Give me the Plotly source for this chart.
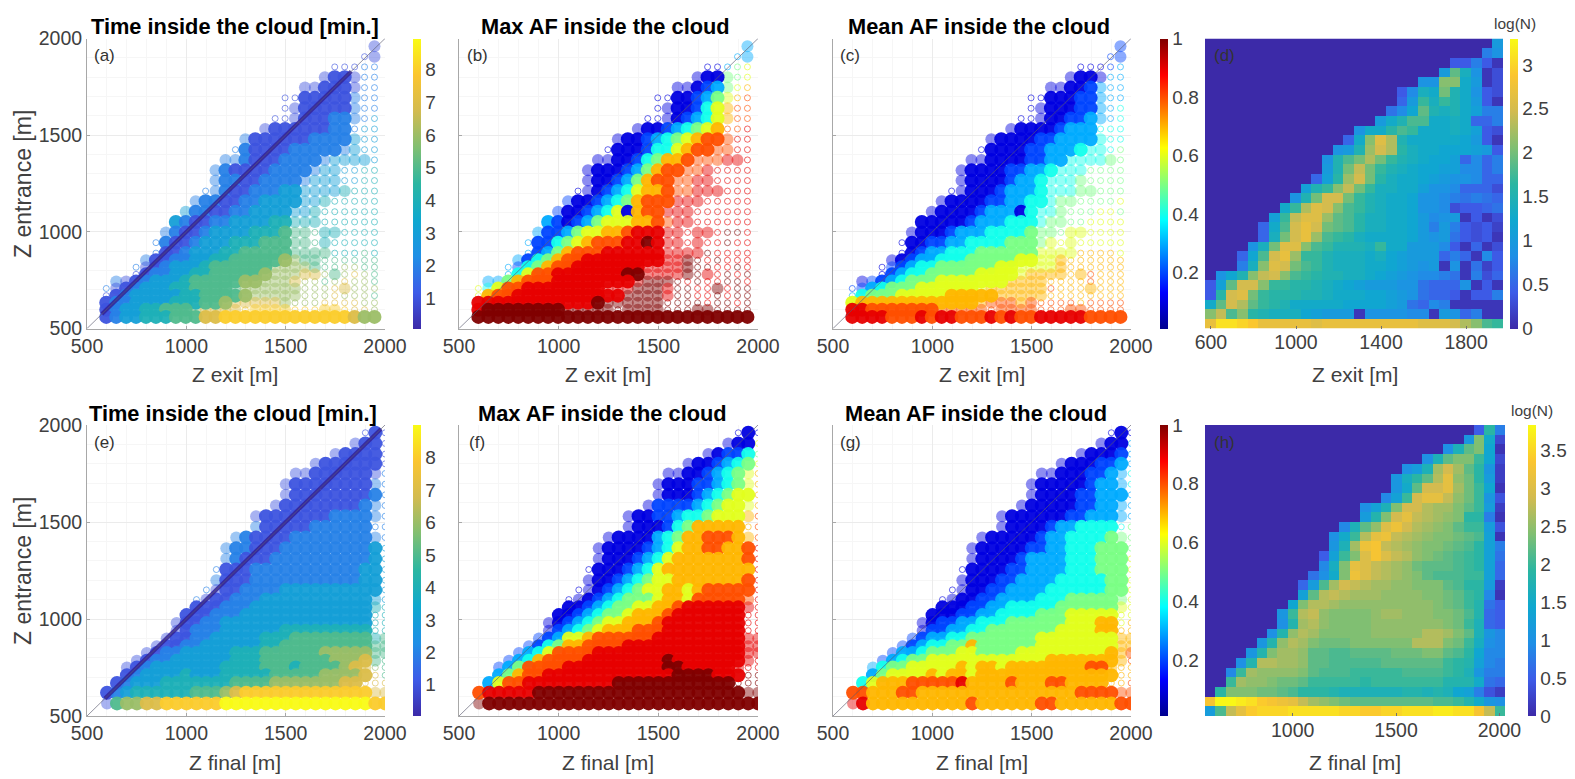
import plotly.graph_objects as go

W, H = 1575, 779

# ---------- data: all rows listed top to bottom, right aligned on the last column ----------
x_exit = [597 + 50 * i for i in range(28)]
x_final = [601 + 50 * i for i in range(29)]
y_rows_exit = [1960,1906,1853,1800,1746,1693,1639,1586,1532,1479,1425,1372,1318,1265,1211,1158,1104,1051,997,944,890,853,817,780,743,707,670,633,597,560]
y_rows_final = [1960,1905,1850,1800,1750,1695,1640,1585,1530,1475,1420,1365,1310,1255,1200,1150,1100,1060,1020,980,940,900,860,825,785,750,710,670,620,565]
# extent of the dense dark streak along the diagonal in the time panels
streak_exit = [575, 1830]
streak_final = [590, 1980]

# log(N) x 10
logn_exit = [
[10],[7,9],[4,4,7,4,1],[10,19,14,9,1,3],[9,9,21,21,13,10,1,3],
[4,8,14,13,20,15,13,9,4,3],[5,10,17,14,17,15,13,10,4,1],[6,8,12,19,15,14,15,13,11,7,7],
[10,13,15,18,18,13,13,14,13,5,5,7],[9,13,13,16,18,17,13,13,13,14,13,11,4,3],
[5,13,21,26,23,15,13,13,13,13,13,12,10,4,1],[9,10,15,22,25,23,16,14,13,13,12,12,12,11,10,4],
[9,15,18,20,23,20,17,15,14,13,12,12,11,5,8,5,7],[10,15,20,24,20,17,15,14,13,12,12,11,11,8,8,5,7],
[5,11,16,22,25,20,16,14,13,13,12,11,10,9,9,8,5,5],[11,15,17,21,24,20,17,14,14,13,13,11,9,9,8,5,5,5,3],
[9,15,20,25,25,20,17,15,14,13,13,12,9,9,8,7,6,7,6,5],[13,17,23,26,25,21,18,17,15,14,13,13,12,9,9,8,3,4,4,5,6],
[11,17,24,26,26,22,19,18,16,14,14,13,13,12,10,8,9,10,1,4,1,3],
[5,13,18,25,27,25,20,19,18,16,14,14,13,13,12,10,7,10,7,4,3,4,2],
[5,14,20,25,27,22,18,17,16,14,13,13,13,13,12,10,9,10,6,4,3,4,1],
[9,14,20,26,26,21,18,17,15,15,15,14,17,13,13,10,10,10,8,4,1,5,1,3],
[5,12,18,25,27,22,17,17,15,14,14,14,13,14,12,11,10,10,10,5,7,5,1,8,4],
[7,14,21,26,25,20,18,17,15,14,14,14,13,13,12,11,10,9,10,1,9,1,6,2,4],
[9,12,15,21,24,25,21,18,17,16,15,15,14,14,13,12,11,10,9,8,8,7,6,1,7,3,5],
[4,11,19,25,25,21,17,17,16,16,15,14,13,12,11,10,10,10,9,9,6,5,5,5,9,1,4,1],
[4,16,25,26,20,17,16,16,16,15,15,14,13,13,13,12,12,11,10,9,6,5,5,4,1,4,4,7],
[13,19,25,23,19,17,16,15,13,13,13,13,13,12,12,12,12,11,10,6,5,8,7,1,1,1,1,1],
[21,24,18,21,16,15,14,14,14,12,11,10,10,10,1,9,9,9,9,8,8,1,10,9,5,7,1,1],
[27,31,31,30,29,27,27,27,27,27,26,27,27,27,27,27,27,27,27,27,26,26,26,25,23,21,18,17],
]
logn_final = [
[5,19,8],[11,24,15,3],[10,17,22,24,14,1],[10,17,22,24,24,20,14,3],[10,12,17,26,29,26,22,19,11,2],
[11,16,19,22,27,31,25,23,19,12,2],[11,15,22,29,29,31,26,23,20,14,1],[9,13,20,29,31,31,28,25,23,20,11,4],
[10,13,17,24,29,29,27,26,26,24,22,20,12,2],[12,18,24,29,31,28,27,26,25,24,19,19,8,1],
[9,17,22,25,30,32,29,27,26,25,24,22,20,20,12,4],[10,15,20,27,31,32,28,27,26,25,24,24,23,22,21,13,1],
[11,17,26,32,33,28,27,26,25,24,24,23,22,21,19,13,8],[5,13,20,24,30,33,30,28,27,25,24,23,22,21,20,19,13,7],
[9,16,24,31,30,28,27,26,25,23,22,22,22,21,20,19,13,6],[7,10,15,24,32,30,28,27,26,25,24,22,21,21,21,20,20,13,6],
[6,12,21,26,29,28,27,26,26,25,25,24,24,24,22,21,19,19,12,2],[13,22,27,28,27,26,26,26,25,25,25,25,24,24,23,22,20,19,9,1],
[14,24,27,27,26,25,25,25,25,25,25,25,25,25,24,23,22,20,18,7,5],
[11,20,27,28,25,24,24,24,24,25,26,26,25,25,25,24,24,23,21,18,6,5],
[10,18,26,27,25,24,24,24,24,25,25,25,25,25,25,25,24,23,20,17,6,5],
[10,18,25,27,26,24,24,24,24,24,25,25,25,25,25,27,27,26,24,22,17,11,9],
[11,18,25,27,26,24,23,23,23,24,24,24,24,24,24,27,27,27,24,23,20,16,10,9],
[11,18,24,26,26,25,22,22,21,21,22,22,22,22,23,23,23,24,24,22,21,19,14,9,9],
[10,18,27,27,26,26,25,22,22,21,21,21,21,21,22,22,22,22,22,22,20,19,18,13,9,8],
[9,20,26,25,25,25,25,24,22,21,21,21,20,20,20,20,20,21,21,21,21,20,19,17,11,8,8],
[20,26,25,25,24,23,23,22,20,20,20,20,20,19,20,20,20,20,20,20,20,18,18,18,15,7,6],
[19,24,24,24,23,23,22,21,19,19,19,18,17,17,17,17,17,17,18,18,17,18,17,14,13,8,4,2],
[33,38,38,37,36,34,33,32,31,28,26,25,24,23,22,22,22,22,22,22,22,22,21,21,20,18,15,11,10],
[12,21,28,31,34,35,35,35,36,36,36,36,36,35,35,34,34,35,35,36,36,36,37,37,36,36,33,28,20],
]

# time inside the cloud [min] per bin, Z exit
time_exit = [
[1],[1,1],[1,1,1,2,2],[1,1,1,1,2,2],[1,1,1,1,1,1,2,2],[1,1,1,1,1,1,1,2,2,2],[1,1,1,1,1,1,1,2,2,2],
[1,1,1,1,1,1,2,2,2,2,3],[1,1,1,1,1,1,1,2,2,2,3,3],[2,1,1,1,1,1,1,2,2,2,2,3,3,3],
[2,2,1,1,1,1,2,2,2,2,2,2,3,3,3],[2,2,2,1,1,1,2,2,2,2,2,3,3,3,3,3],[2,2,1,1,1,1,2,2,2,2,2,3,3,3,3,4,4],
[2,2,2,1,1,2,2,2,2,2,3,3,3,3,3,4,4],[2,2,2,1,1,2,2,2,3,3,3,3,3,3,4,4,4,4],
[2,2,2,1,1,2,2,3,3,3,3,3,3,4,4,4,4,4,4],[3,2,2,1,1,2,2,3,3,3,3,3,3,4,4,4,4,4,4,4],
[3,2,1,1,2,2,3,3,3,3,4,4,4,4,4,4,4,4,4,4,4],[2,2,1,1,2,3,3,3,3,4,4,4,5,5,5,5,4,4,4,4,4,4],
[2,2,1,1,2,3,3,3,4,4,4,5,5,5,5,5,5,4,4,4,4,4,4],[2,1,1,2,3,3,3,4,4,5,5,5,5,5,5,5,5,5,4,4,4,5,4],
[2,1,1,2,2,3,3,4,4,5,5,5,5,5,6,6,5,5,5,5,5,5,5,5],[2,1,1,2,3,3,3,4,5,5,5,5,5,5,6,6,6,6,5,5,5,6,6,5,5],
[1,1,2,2,3,3,4,4,5,5,5,5,5,6,6,6,6,7,7,6,5,6,7,6,5],[2,1,1,2,3,3,3,4,5,5,5,5,5,6,6,6,6,6,7,6,6,5,6,7,6,6,5],
[2,1,1,2,3,3,3,4,4,5,5,5,5,5,6,6,6,6,6,6,6,6,6,7,7,6,6,6],[1,1,2,3,3,3,3,3,4,4,5,5,5,5,6,6,6,6,6,6,6,6,6,7,6,6,6,5],
[1,2,2,3,3,3,3,4,4,4,5,5,6,7,7,7,7,7,6,6,6,6,7,7,7,7,6,6],[1,2,3,3,4,4,5,5,5,6,7,7,7,7,8,8,8,8,8,8,8,8,8,8,8,7,7,6],
[1,2,3,3,4,4,4,5,5,5,7,7,8,8,8,8,8,8,8,8,8,8,8,8,8,7,6,6],
]
# max AF x 10, Z exit
max_exit = [
[3],[3,3],[1,1,3,5,6],[1,1,1,5,5,6],[1,1,1,2,3,5,6,7],[1,1,1,1,2,3,5,6,7,8],[1,1,1,1,2,4,6,7,8,8],
[1,1,1,1,2,3,4,6,7,8,8],[1,1,1,2,3,4,5,6,7,8,8,9],[1,1,1,2,3,4,5,6,7,8,8,8,9,9],
[1,1,1,1,2,4,4,6,7,8,8,8,8,9,9],[1,1,1,1,2,4,5,7,7,8,8,8,8,9,9,9],[1,1,1,1,2,3,5,7,8,8,8,8,9,9,9,9,9],
[1,1,1,2,3,5,7,8,8,8,8,9,9,9,9,9,9],[1,1,1,2,3,4,6,7,7,8,8,8,9,9,9,9,9,9],
[2,1,1,2,3,4,5,7,8,8,8,9,9,9,9,9,9,9,9],[2,1,1,2,3,4,6,1,7,8,8,9,9,9,9,9,9,9,9,9],
[3,2,1,2,3,5,6,6,6,7,7,8,8,9,9,9,9,9,9,9,9],[3,2,2,3,5,6,6,7,7,8,9,9,9,9,9,9,9,9,9,10,10,9],
[3,2,2,4,5,6,7,8,8,8,9,9,10,9,9,9,9,9,9,9,10,9,9],[3,2,3,5,7,8,8,8,9,9,9,9,9,9,9,9,9,9,10,9,9,9,9],
[3,2,4,5,7,8,8,9,9,9,9,9,9,9,9,9,9,10,10,9,10,9,9,9],[3,2,4,5,7,8,8,9,9,9,9,9,9,9,9,9,9,9,10,10,10,9,9,10,9],
[3,4,6,8,8,9,9,9,9,9,9,9,10,10,9,9,9,9,10,10,9,9,10,9,10],[3,3,5,7,8,8,8,9,9,9,9,9,9,9,9,9,10,10,10,10,9,10,9,9,10,10,9],
[6,4,6,8,8,9,9,9,9,9,9,9,9,9,9,9,10,10,10,9,10,10,9,9,10,9,10,10],[6,7,8,8,9,9,9,9,9,9,9,9,9,9,9,10,10,10,10,9,10,10,9,9,10,9,10,10],
[9,9,9,9,9,9,9,9,9,9,9,9,10,10,10,10,10,10,10,10,10,10,10,9,10,10,9,10],
[9,10,10,10,10,10,10,10,10,10,10,10,10,10,10,10,10,10,10,10,10,10,10,10,10,10,10,10],
[10,10,10,10,10,10,10,10,10,10,10,10,10,10,10,10,10,10,10,10,10,10,10,10,10,10,10,10],
]
# mean AF x 10, Z exit
mean_exit = [
[2],[2,2],[1,1,1,2,3],[1,1,1,1,3,3],[1,1,1,1,2,3,3,3],[1,1,1,1,1,2,2,3,3,3],[1,1,1,1,1,2,2,3,3,4],
[1,1,1,1,1,2,2,3,3,3,4],[1,1,1,1,1,2,3,3,3,4,4,4],[1,1,1,1,1,2,2,3,3,3,3,4,4,4],
[1,1,1,1,1,2,2,3,3,3,4,4,4,4,5],[1,1,1,1,1,1,2,2,3,3,4,4,4,4,5,5],[1,1,1,1,1,2,2,3,3,4,4,4,4,5,5,5,5],
[1,1,1,1,1,2,3,3,4,4,4,4,5,5,5,5,5],[1,1,1,1,1,2,3,3,3,4,4,4,4,5,5,5,5,5],
[1,1,1,1,1,2,2,3,3,4,4,4,5,5,5,5,5,5,6],[1,1,1,1,1,2,3,3,3,1,4,4,4,5,5,5,5,6,6,5],
[1,1,1,1,1,2,3,3,3,4,4,4,4,5,5,5,5,6,6,6,6],[1,1,1,1,2,3,3,3,4,4,4,4,5,5,5,5,6,6,6,6,6,6],
[1,1,1,2,2,3,3,4,4,4,4,5,5,5,5,6,6,6,6,6,6,6,6],[1,1,2,3,3,4,4,4,5,5,5,5,5,5,6,6,6,6,7,7,7,7,6],
[1,1,2,3,3,4,4,4,5,5,5,5,5,6,6,6,6,7,7,7,7,7,7,7],[1,2,2,3,4,4,5,5,5,5,5,5,6,6,6,6,6,6,7,7,7,7,7,7,7],
[1,2,3,4,4,5,5,5,5,5,6,6,6,6,6,7,7,7,7,7,7,8,7,7,7],[1,2,2,3,4,5,5,5,6,6,6,6,6,6,6,7,7,7,7,7,7,7,7,8,7,7,7],
[2,2,3,4,5,5,5,6,6,6,6,6,6,6,7,7,7,7,7,7,8,7,7,7,7,7,7,7],[3,4,5,5,5,6,6,6,6,6,7,7,7,7,7,7,7,7,7,7,7,7,7,7,7,7,7,7],
[6,7,7,7,7,7,7,7,7,7,7,7,7,7,8,8,8,7,8,8,8,8,8,7,8,8,8,8],[9,9,8,8,8,8,8,8,8,8,8,8,8,8,8,8,8,8,8,8,8,8,8,8,8,8,8,8],
[9,9,9,9,8,8,8,9,8,9,9,8,8,8,9,8,9,8,8,9,9,9,9,9,8,8,8,8],
]
# time inside the cloud [min] per bin, Z final
time_final = [
[1,1,1],[1,1,1,1],[1,1,1,1,1,1],[1,1,1,1,1,1,1,1],[1,1,1,1,1,1,1,1,1,2],[1,1,1,1,1,1,1,1,1,2,2],[1,1,1,1,1,1,1,1,1,2,2],
[1,1,1,1,1,1,1,1,1,2,2,2],[1,1,1,1,1,1,1,1,2,2,2,2,2,2],[2,1,1,1,1,1,2,2,2,2,2,2,2,2],
[2,2,1,1,1,1,2,2,2,2,2,2,2,2,2,2],[2,2,2,1,1,1,2,2,2,2,2,2,2,2,2,3,3],[2,2,1,1,1,2,2,2,2,2,2,2,2,2,2,3,3],
[2,1,1,1,2,2,2,2,2,2,2,2,2,2,2,3,3,3],[2,1,1,1,2,2,2,2,2,2,2,2,2,2,2,3,3,3],
[2,1,1,1,2,2,2,2,3,3,3,3,3,3,3,3,3,3,3],[2,1,1,1,2,2,2,3,3,3,3,3,3,3,3,3,3,3,3,3],
[1,1,1,2,2,2,3,3,3,3,3,3,3,3,3,3,3,3,4,4],[1,1,1,2,2,2,3,3,3,3,3,3,3,3,3,3,3,3,3,4,4],
[1,1,1,2,2,3,3,3,3,3,3,3,3,3,3,3,3,3,3,3,4,4],[1,1,2,2,2,3,3,3,3,3,3,4,4,4,4,4,4,4,4,4,4,4],
[1,1,1,2,2,3,3,3,3,3,4,4,4,5,5,5,5,5,5,5,5,4,5],[1,1,1,2,2,3,3,3,3,3,3,4,4,5,5,5,5,5,5,5,5,5,5,5],
[1,1,2,2,3,3,3,3,3,4,4,4,5,5,5,5,5,5,6,6,6,6,6,5,5],[1,1,2,2,3,3,3,3,3,3,4,4,4,5,5,5,5,5,5,5,6,6,6,7,5,5],
[1,1,2,3,3,3,3,3,3,3,4,4,4,4,5,5,5,4,5,5,5,5,6,7,7,6,5],[1,2,3,3,3,3,4,3,3,3,4,4,4,4,4,5,5,5,5,5,6,6,6,6,7,7,5],
[1,2,3,3,3,4,4,4,4,4,4,4,5,5,5,5,6,6,6,6,6,6,6,7,7,7,7,7],[1,2,3,4,4,4,4,4,4,5,5,5,6,7,8,8,8,8,8,8,8,8,8,8,8,8,8,7,7],
[1,5,6,6,7,7,8,8,8,8,8,8,9,9,9,9,9,9,9,9,9,9,9,9,9,9,9,8,8],
]
# max AF x 10, Z final
max_final = [
[1,1,1],[1,1,1,6],[1,1,2,2,4,5],[1,1,1,2,3,4,5,6],[1,1,1,1,2,3,4,5,6,7],[1,1,1,1,2,2,3,4,5,6,7],[1,1,1,1,2,3,4,5,6,6,7],
[1,2,2,2,2,3,4,5,6,6,6,7],[1,1,1,2,2,3,4,4,5,6,6,6,7,8],[1,1,1,1,2,4,5,7,7,7,7,7,7,8],
[1,1,1,1,1,3,4,5,7,7,8,8,8,7,7,8],[1,1,1,1,1,2,3,4,6,7,7,8,8,7,7,8,9],[1,1,1,1,2,3,4,6,7,7,7,7,7,7,7,8,9],
[1,1,1,1,2,3,4,6,7,7,7,7,7,7,7,7,7,9],[1,1,1,2,3,4,5,6,6,7,7,7,7,7,7,7,8,9],
[1,1,1,2,3,4,5,6,6,7,7,6,7,8,8,8,8,8,9],[1,1,1,2,3,4,5,5,5,6,7,7,6,8,8,8,8,8,8,9],
[1,1,2,3,4,5,5,6,6,7,7,8,9,9,9,9,9,9,9,9],[1,1,2,3,4,5,5,6,7,7,7,8,9,9,9,9,9,9,9,9,9],
[1,1,2,3,4,5,6,6,7,7,7,8,9,9,9,9,9,9,9,9,9,9],[1,2,3,4,5,6,7,7,7,8,8,8,9,9,9,9,9,9,9,9,9,9],
[2,2,3,6,6,7,8,8,8,8,8,8,9,9,9,9,9,9,9,9,9,9,9],[2,2,4,5,7,7,8,8,8,8,9,9,9,9,9,9,9,9,9,9,9,9,9,9],
[2,3,4,6,8,8,8,8,9,9,9,9,9,9,9,9,9,9,9,9,9,9,9,9,9],[2,3,4,7,8,8,8,8,9,9,9,9,9,9,9,9,10,9,9,9,9,9,9,9,9,9],
[2,3,5,8,8,8,8,9,9,9,9,9,9,9,9,9,9,10,10,9,9,9,9,9,9,9,9],[3,5,7,8,8,9,9,9,9,9,9,9,9,9,9,9,9,9,10,10,10,10,9,9,9,10,10],
[3,6,8,8,9,9,9,9,9,9,9,9,9,10,10,10,10,10,10,10,10,10,10,10,10,10,10,10],
[8,9,9,9,9,9,10,10,10,10,10,10,10,10,10,10,10,10,10,10,10,10,10,10,10,10,10,10,10],
[10,10,10,10,10,10,10,10,10,10,10,10,10,10,10,10,10,10,10,10,10,10,10,10,10,10,10,10,10],
]
# mean AF x 10, Z final
mean_final = [
[1,1,1],[1,1,1,3],[1,1,1,1,2,3],[1,1,1,1,2,2,3,3],[1,1,1,1,1,2,2,3,3,4],[1,1,1,1,1,1,2,3,3,3,4],[1,1,1,1,1,2,2,3,3,3,3],
[1,1,1,1,1,1,2,2,3,3,3,3],[1,1,1,1,1,1,1,2,2,3,3,3,3,3],[1,1,1,1,1,2,3,3,4,4,4,4,4,5],
[1,1,1,1,1,1,2,3,3,4,4,4,4,5,5,5],[1,1,1,1,1,1,2,2,3,3,4,4,4,5,5,5,5],[1,1,1,1,1,2,3,3,3,3,4,4,4,5,5,5,6],
[1,1,1,1,1,2,2,3,3,3,3,4,4,4,5,5,5,6],[1,1,1,1,2,2,3,3,3,3,4,4,4,4,4,5,5,6],
[1,1,1,1,2,2,3,3,3,3,4,4,4,4,4,4,5,5,6],[1,1,1,1,2,2,3,3,3,3,4,4,4,5,5,5,5,5,5,6],
[1,1,1,2,2,3,3,4,4,4,4,4,5,5,5,5,5,5,6,6],[1,1,1,2,2,3,3,4,4,4,4,5,5,5,6,6,6,6,6,6,6],
[1,1,2,2,3,3,4,4,4,5,5,5,5,5,5,6,6,6,7,7,6,7],[1,2,2,3,3,4,4,5,5,5,5,5,5,5,6,6,6,6,7,7,7,7],
[2,2,3,3,4,4,5,5,5,5,5,5,5,6,6,6,6,6,6,6,6,7,7],[2,2,3,4,4,5,5,7,5,5,5,5,5,5,6,6,6,6,6,6,6,6,7,7],
[2,3,3,4,5,5,5,6,6,5,5,5,5,6,6,6,6,6,6,6,6,6,7,7,8],[2,3,4,5,5,6,6,6,6,6,6,6,6,6,6,6,6,7,7,7,7,7,7,7,7,8],
[3,4,5,5,6,6,6,6,6,7,6,7,7,6,7,7,7,7,7,7,7,7,8,8,7,7,7],[3,5,6,6,6,6,7,6,7,7,6,7,7,7,7,7,7,7,7,7,7,7,7,7,7,7,7],
[4,6,7,7,7,8,8,8,8,8,9,7,7,7,7,8,7,7,7,8,8,7,7,7,7,7,7,8],[8,8,7,7,7,8,8,7,7,7,7,7,7,7,7,7,7,7,7,7,7,7,7,8,8,8,8,8,8],
[9,9,7,7,7,7,7,7,7,7,7,7,8,7,7,7,7,7,7,8,8,7,7,7,7,7,7,8,8],
]

titles = ["Time inside the cloud [min.]", "Max AF inside the cloud", "Mean AF inside the cloud"]
letters = ["(a)", "(b)", "(c)", "(d)", "(e)", "(f)", "(g)", "(h)"]
z_ticks = [500, 1000, 1500, 2000]

# ---------- styling ----------
PARULA = [[0,'#3c2aa8'],[0.125,'#3d5be8'],[0.25,'#1f8fe6'],[0.375,'#0fa8cf'],[0.5,'#2bb6a2'],
          [0.625,'#80bf72'],[0.75,'#d2bb50'],[0.875,'#fbc52f'],[1,'#f9fb15']]
JET = [[0,'#00008f'],[0.125,'#0000ff'],[0.375,'#00ffff'],[0.625,'#ffff00'],[0.875,'#ff0000'],[1,'#800000']]
FONT = "Liberation Sans"
TXT = "#404040"

def pad(rows, n):
    return [[0] * (n - len(r)) + list(r) for r in rows]

def px(x): return x / W
def py(y): return 1 - y / H

fig = go.Figure()
layout = {}
ann = []

def add_axes(k, x0, x1, y0, y1):
    return dict(domain=[px(x0), px(x1)]), dict(domain=[py(y1), py(y0)])

def cbar(x0, x1, y0, y1, vals, text=None):
    d = dict(thickness=x1 - x0, thicknessmode='pixels', len=y1 - y0, lenmode='pixels',
             x=px(x0), xanchor='left', y=py(y1), yanchor='bottom', outlinewidth=0, xpad=0, ypad=0,
             tickvals=vals, ticks='', tickfont=dict(family=FONT, size=19, color=TXT))
    if text: d['ticktext'] = text
    return d

def scatter_panel(k, box, colors, logn, xs, ys, scale, cmin, cmax, cs, bar, streak=None):
    x0, x1, y0, y1 = box
    xa, ya = add_axes(k, x0, x1, y0, y1)
    grid = dict(range=[500, 2000], tickvals=z_ticks, showgrid=True, gridcolor='#ebebeb', gridwidth=1,
                minor=dict(dtick=100, showgrid=True, gridcolor='#f6f6f6', gridwidth=1),
                showline=True, linecolor='#a8a8a8', linewidth=1, ticks='inside', ticklen=3, tickcolor='#a8a8a8',
                zeroline=False, tickfont=dict(family=FONT, size=19.5, color=TXT))
    xa.update(grid); ya.update(grid)
    ya['showticklabels'] = (k in (1, 5))
    xa['anchor'] = f'y{k}'; ya['anchor'] = f'x{k}'
    layout[f'xaxis{k}'] = xa; layout[f'yaxis{k}'] = ya
    # tiers by log(N): sparse open circles, a light veil of overlapping marks, then solid crowded bins
    tiers = [
        (0, 8, dict(symbol='circle-open', size=6, opacity=0.6, line=dict(width=1))),
        (8, 12, dict(symbol='circle', size=12, opacity=0.45, line=dict(width=0))),
        (12, 99, dict(symbol='circle', size=14, opacity=0.95, line=dict(width=0))),
    ]
    for t, (lo, hi, mk) in enumerate(tiers):
        X, Y, C = [], [], []
        for r, row in enumerate(colors):
            for c, v in enumerate(row):
                n = logn[r][c]
                if v and n > 0 and lo < n <= hi:
                    X.append(xs[c]); Y.append(ys[r]); C.append(v * scale)
        marker = dict(mk, color=C, colorscale=cs, cmin=cmin, cmax=cmax)
        if bar and t == 2:
            marker['colorbar'] = bar
            marker['showscale'] = True
        else:
            marker['showscale'] = False
        fig.add_trace(go.Scatter(x=X, y=Y, mode='markers', marker=marker, xaxis=f'x{k}', yaxis=f'y{k}',
                                 showlegend=False, hoverinfo='skip'))
    if streak:
        fig.add_trace(go.Scatter(x=streak, y=streak, mode='lines', line=dict(color='rgba(52,34,150,0.85)', width=4),
                                 xaxis=f'x{k}', yaxis=f'y{k}', showlegend=False, hoverinfo='skip'))
    fig.add_trace(go.Scatter(x=[500, 2000], y=[500, 2000], mode='lines', line=dict(color='rgba(90,90,110,0.65)', width=1),
                             xaxis=f'x{k}', yaxis=f'y{k}', showlegend=False, hoverinfo='skip'))

def heat_panel(k, box, z, xs, xr, xticks, zmax, bar):
    x0, x1, y0, y1 = box
    xa, ya = add_axes(k, x0, x1, y0, y1)
    xa.update(range=xr, tickvals=xticks, ticks='inside', ticklen=3, tickcolor='#707070', showgrid=False, zeroline=False,
              tickfont=dict(family=FONT, size=19.5, color=TXT), anchor=f'y{k}')
    ya.update(range=[len(z) - 0.5, -0.5], showticklabels=False, ticks='', showgrid=False, zeroline=False, anchor=f'x{k}')
    layout[f'xaxis{k}'] = xa; layout[f'yaxis{k}'] = ya
    fig.add_trace(go.Heatmap(z=[[v / 10 for v in row] for row in z], x=xs, y=list(range(len(z))), colorscale=PARULA,
                             zmin=0, zmax=zmax, colorbar=bar, xaxis=f'x{k}', yaxis=f'y{k}', hoverinfo='skip'))

def text(s, x, y, size, color=TXT, bold=False, angle=0):
    ann.append(dict(text=f"<b>{s}</b>" if bold else s, x=px(x), y=py(y), xref='paper', yref='paper', showarrow=False,
                    font=dict(family=FONT, size=size, color=color), xanchor='center', yanchor='middle', textangle=angle))

TOP = (38.5, 328.5); BOT = (425, 716)
xa_box = (87, 385); xb_box = (459, 758); xc_box = (833, 1131); xd_box = (1205, 1505)
af_vals = [0.2, 0.4, 0.6, 0.8, 1]
time_vals = list(range(1, 9))

scatter_panel(1, (*xa_box, *TOP), pad(time_exit, 28), pad(logn_exit, 28), x_exit, y_rows_exit, 1, 0.07, 8.96, PARULA,
              cbar(413, 421, *TOP, time_vals), streak_exit)
scatter_panel(2, (*xb_box, *TOP), pad(max_exit, 28), pad(logn_exit, 28), x_exit, y_rows_exit, 0.1, 0.01, 1, JET, None)
scatter_panel(3, (*xc_box, *TOP), pad(mean_exit, 28), pad(logn_exit, 28), x_exit, y_rows_exit, 0.1, 0.01, 1, JET,
              cbar(1160, 1168, *TOP, af_vals))
heat_panel(4, (*xd_box, *TOP), pad(logn_exit, 28), x_exit, [572, 1983], [600, 1000, 1400, 1800], 3.3,
           cbar(1510, 1518, *TOP, [0, 0.5, 1, 1.5, 2, 2.5, 3], ["0", "0.5", "1", "1.5", "2", "2.5", "3"]))
scatter_panel(5, (*xa_box, *BOT), pad(time_final, 29), pad(logn_final, 29), x_final, y_rows_final, 1, 0.04, 9, PARULA,
              cbar(413, 421, *BOT, time_vals), streak_final)
scatter_panel(6, (*xb_box, *BOT), pad(max_final, 29), pad(logn_final, 29), x_final, y_rows_final, 0.1, 0.01, 1, JET, None)
scatter_panel(7, (*xc_box, *BOT), pad(mean_final, 29), pad(logn_final, 29), x_final, y_rows_final, 0.1, 0.01, 1, JET,
              cbar(1160, 1168, *BOT, af_vals))
heat_panel(8, (*xd_box, *BOT), pad(logn_final, 29), x_final, [576, 2027], [1000, 1500, 2000], 3.84,
           cbar(1528, 1536, *BOT, [0, 0.5, 1, 1.5, 2, 2.5, 3, 3.5], ["0", "0.5", "1", "1.5", "2", "2.5", "3", "3.5"]))

# titles, axis titles, letters
for cx, t in zip((235, 605, 979), titles):
    text(t, cx, 26, 21.8, '#000000', bold=True)
for cx, t in zip((233, 602, 976), titles):
    text(t, cx, 413, 21.8, '#000000', bold=True)
for cx in (235, 608, 982, 1355):
    text("Z exit [m]", cx, 375, 21)
for cx in (235, 608, 982, 1355):
    text("Z final [m]", cx, 762, 21)
text("Z entrance [m]", 23, 184, 23, angle=-90)
text("Z entrance [m]", 23, 571, 23, angle=-90)
for s, cx, cy in zip(letters, (104, 477, 850, 1224) * 2, [55] * 4 + [442] * 4):
    text(s, cx, cy, 17, '#333333')
text("log(N)", 1515, 24, 15.5)
text("log(N)", 1532, 410, 15.5)

fig.update_layout(width=W, height=H, margin=dict(l=0, r=0, t=0, b=0, autoexpand=False), paper_bgcolor='white',
                  plot_bgcolor='white', showlegend=False, annotations=ann, **layout)
fig.write_html("out.html", config=dict(displayModeBar=False), post_script="document.body.style.margin='0';")
